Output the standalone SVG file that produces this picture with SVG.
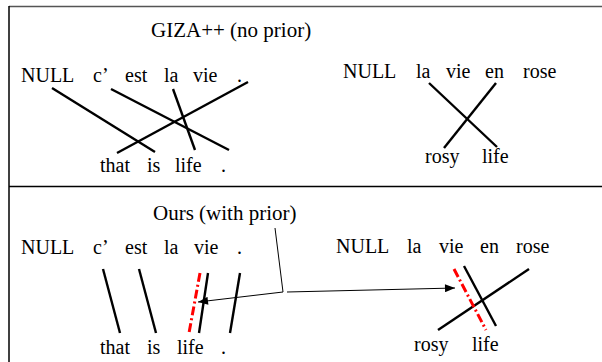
<svg xmlns="http://www.w3.org/2000/svg" width="602" height="362" viewBox="0 0 602 362" font-family="Liberation Serif, Times New Roman, serif">
  <style>
    text { font-size: 20px; fill: #000; }
    .title { font-size: 21px; }
    .link { stroke: #000; stroke-width: 2.4; fill: none; }
    .prior { stroke: #f00; stroke-width: 3; stroke-dasharray: 9 3 2 3; fill: none; }
    .pointer { stroke: #000; stroke-width: 1; fill: none; }
  </style>
  <defs>
    <marker id="tip" viewBox="0 0 10 8" refX="10" refY="4" markerWidth="12" markerHeight="8" markerUnits="userSpaceOnUse" orient="auto">
      <path d="M0,0 L10,4 L0,8 Z" fill="#000"/>
    </marker>
  </defs>
  <rect width="602" height="362" fill="#fff"/>

  <!-- panel frame -->
  <g id="frame">
    <line x1="9" y1="6.5" x2="602" y2="6.5" stroke="#555" stroke-width="1.5"/>
    <line x1="9" y1="6" x2="9" y2="362" stroke="#000" stroke-width="1.5"/>
    <line x1="9" y1="186.5" x2="602" y2="186.5" stroke="#000" stroke-width="1.5"/>
  </g>

  <!-- upper panel: baseline aligner -->
  <g id="title-giza"><text class="title" x="151" y="37" style="font-family:'Liberation Serif',serif">GIZA++ (no prior)</text></g>

  <g id="fr-sentence-1">
    <text x="21" y="82">NULL</text>
    <text x="93" y="82">c’</text>
    <text x="125" y="82">est</text>
    <text x="164" y="82">la</text>
    <text x="193" y="82">vie</text>
    <text x="237" y="82">.</text>
  </g>
  <g id="en-sentence-1">
    <text x="100" y="172">that</text>
    <text x="147" y="172">is</text>
    <text x="175" y="172">life</text>
    <text x="221" y="172">.</text>
  </g>
  <g id="fr-sentence-2">
    <text x="343" y="78">NULL</text>
    <text x="416" y="78">la</text>
    <text x="446" y="78">vie</text>
    <text x="485" y="78">en</text>
    <text x="523" y="78">rose</text>
  </g>
  <g id="en-sentence-2">
    <text x="425" y="163">rosy</text>
    <text x="482" y="163">life</text>
  </g>

  <g id="alignments-giza">
    <line class="link" x1="52" y1="88" x2="155" y2="152"/>
    <line class="link" x1="111" y1="89" x2="229" y2="150"/>
    <line class="link" x1="173" y1="89" x2="195" y2="150"/>
    <line class="link" x1="248" y1="82" x2="117" y2="153"/>
    <line class="link" x1="429" y1="83" x2="497" y2="147"/>
    <line class="link" x1="496" y1="83" x2="444" y2="148"/>
  </g>

  <!-- lower panel: aligner with prior -->
  <g id="title-ours"><text class="title" x="153" y="220">Ours (with prior)</text></g>

  <g id="fr-sentence-3">
    <text x="21" y="254">NULL</text>
    <text x="93" y="254">c’</text>
    <text x="125" y="254">est</text>
    <text x="164" y="254">la</text>
    <text x="194" y="254">vie</text>
    <text x="237" y="254">.</text>
  </g>
  <g id="en-sentence-3">
    <text x="100" y="354">that</text>
    <text x="147" y="354">is</text>
    <text x="177" y="354">life</text>
    <text x="221" y="354">.</text>
  </g>
  <g id="fr-sentence-4">
    <text x="336" y="253">NULL</text>
    <text x="407" y="253">la</text>
    <text x="439" y="253">vie</text>
    <text x="480" y="253">en</text>
    <text x="516" y="253">rose</text>
  </g>
  <g id="en-sentence-4">
    <text x="414" y="351">rosy</text>
    <text x="472" y="351">life</text>
  </g>

  <g id="alignments-ours">
    <line class="link" x1="103" y1="269" x2="120" y2="333"/>
    <line class="link" x1="139" y1="269" x2="156" y2="333"/>
    <line class="link" x1="208" y1="273" x2="199" y2="333"/>
    <line class="link" x1="240" y1="273" x2="230" y2="333"/>
    <line class="prior" x1="200" y1="273" x2="189" y2="333"/>
    <line class="link" x1="464" y1="266" x2="496" y2="326"/>
    <line class="link" x1="529" y1="269" x2="438" y2="330"/>
    <line class="prior" x1="454" y1="269" x2="486" y2="330"/>
  </g>

  <!-- pointers from the label to the prior links -->
  <g id="connectors">
    <polyline class="pointer" points="275,228 283,292 198,302" marker-end="url(#tip)"/>
    <polyline class="pointer" points="287,292 455,288" marker-end="url(#tip)"/>
  </g>
</svg>
